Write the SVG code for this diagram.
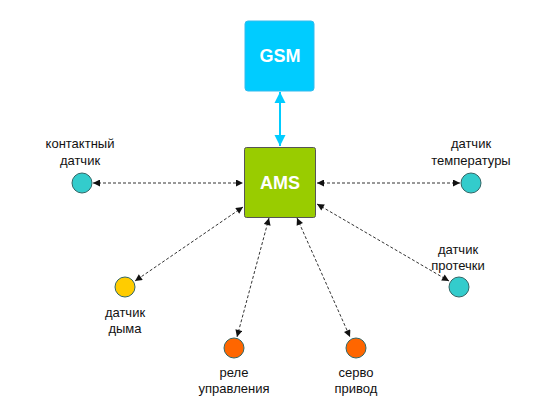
<svg xmlns="http://www.w3.org/2000/svg" width="560" height="420" viewBox="0 0 560 420">
<defs>
<marker id="ah" viewBox="0 0 10 10" refX="10" refY="5" markerWidth="9" markerHeight="7" markerUnits="userSpaceOnUse" orient="auto-start-reverse"><path d="M0,0 L10,5 L0,10 z" fill="#111"/></marker>
<marker id="ahc" viewBox="0 0 10 10" refX="10" refY="5" markerWidth="11" markerHeight="13" markerUnits="userSpaceOnUse" orient="auto-start-reverse"><path d="M0,0 L10,5 L0,10 z" fill="#00CCFF"/></marker>
<style>
.lbl{font-family:"Liberation Sans",Arial,sans-serif;font-size:13px;fill:#111;text-anchor:middle}
.box{font-family:"Liberation Sans",Arial,sans-serif;font-size:18px;font-weight:bold;fill:#fff;text-anchor:middle}
.dash{stroke:#333;stroke-width:1;stroke-dasharray:3,2;fill:none;marker-start:url(#ah);marker-end:url(#ah)}
.node{stroke:#336666;stroke-width:1}
</style>
</defs>
<rect width="560" height="420" fill="#fff"/>
<g id="connectors">
<line x1="280" y1="92" x2="280" y2="146" stroke="#00CCFF" stroke-width="2" marker-start="url(#ahc)" marker-end="url(#ahc)"/>
<line class="dash" x1="93" y1="183" x2="243" y2="183"/>
<line class="dash" x1="317" y1="183" x2="460" y2="183"/>
<line class="dash" x1="243" y1="207" x2="135" y2="281"/>
<line class="dash" x1="269" y1="218" x2="237" y2="337"/>
<line class="dash" x1="297" y1="218" x2="350" y2="337"/>
<line class="dash" x1="317" y1="204" x2="449" y2="281"/>
</g>
<g id="gsm">
<rect x="245" y="21" width="69" height="70" rx="3" fill="#00CCFF" stroke="#33BBEE" stroke-width="1"/>
<text class="box" x="280" y="62">GSM</text>
</g>
<g id="ams">
<rect x="244.5" y="147.5" width="71" height="70" rx="2" fill="#99CC00" stroke="#555" stroke-width="1"/>
<text class="box" x="280" y="189">AMS</text>
</g>
<g id="kontakt">
<circle class="node" cx="82" cy="183" r="10" fill="#33CCCC"/>
<text class="lbl" x="80" y="148">контактный</text>
<text class="lbl" x="80" y="165">датчик</text>
</g>
<g id="temp">
<circle class="node" cx="471" cy="183" r="10" fill="#33CCCC"/>
<text class="lbl" x="471" y="148">датчик</text>
<text class="lbl" x="471" y="165">температуры</text>
</g>
<g id="dym">
<circle class="node" cx="125" cy="287" r="10" fill="#FFCC00" stroke="#777" />
<text class="lbl" x="125" y="317">датчик</text>
<text class="lbl" x="125" y="333">дыма</text>
</g>
<g id="rele">
<circle class="node" cx="234" cy="348" r="10" fill="#FF6600" stroke="#777"/>
<text class="lbl" x="234" y="377">реле</text>
<text class="lbl" x="234" y="393">управления</text>
</g>
<g id="servo">
<circle class="node" cx="356" cy="348" r="10" fill="#FF6600" stroke="#777"/>
<text class="lbl" x="356" y="377">серво</text>
<text class="lbl" x="356" y="393">привод</text>
</g>
<g id="protechka">
<circle class="node" cx="459" cy="287" r="10" fill="#33CCCC"/>
<text class="lbl" x="458" y="254">датчик</text>
<text class="lbl" x="458" y="270">протечки</text>
</g>
</svg>
